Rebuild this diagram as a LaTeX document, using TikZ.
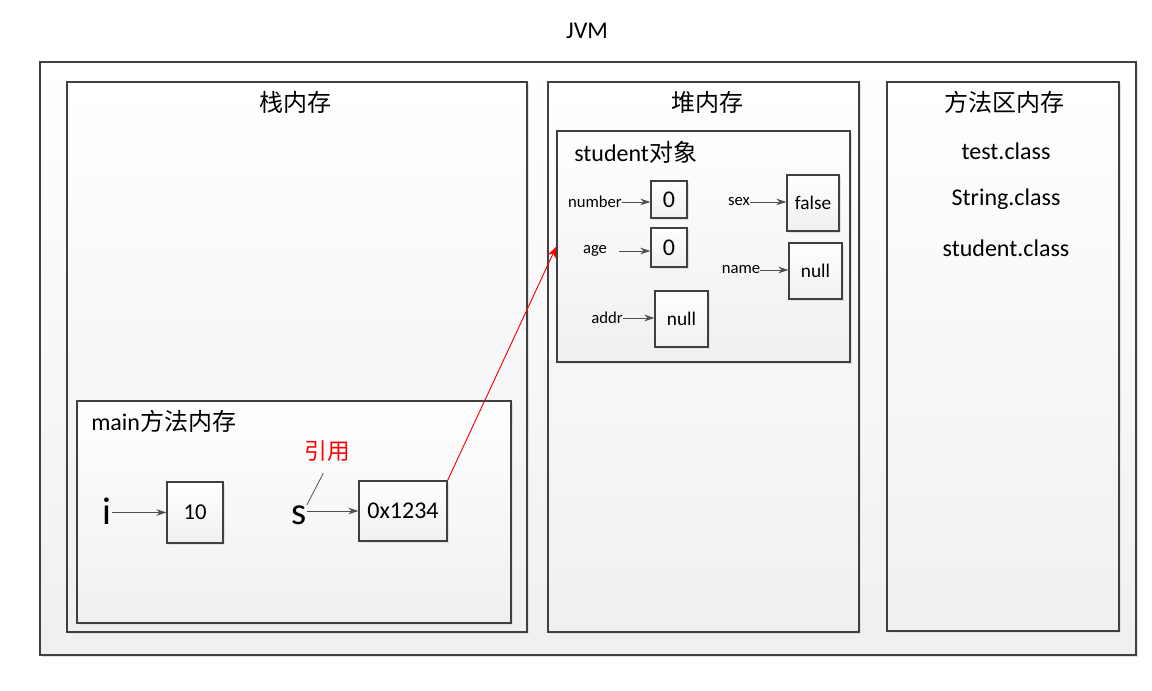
\documentclass[tikz,border=0pt]{standalone}
\usepackage{fontspec}
\setmainfont{Carlito}
\newfontfamily\cjk{Noto Sans CJK SC}
\usetikzlibrary{shadows,arrows.meta}
\definecolor{edge}{HTML}{404040}
\definecolor{arrc}{HTML}{505050}
\tikzset{
  box/.style={draw=edge, line width=0.9pt, top color=white, bottom color=black!6,
    inner sep=0pt,
    drop shadow={shadow xshift=1.6pt, shadow yshift=-1.6pt, fill=black!12, opacity=1}},
  big/.style={font=\fontsize{18}{20}\selectfont},
  mid/.style={font=\fontsize{14.5}{16}\selectfont},
  small/.style={font=\fontsize{12.5}{14}\selectfont, inner sep=0pt},
  huge/.style={font=\fontsize{29}{31}\selectfont, inner sep=0pt},
  arr/.style={draw=arrc, line width=0.7pt, -{Stealth[length=7.5pt,width=5pt]}},
  redarr/.style={draw=red, line width=0.7pt, -{Stealth[length=8.5pt,width=6.5pt]}},
}
\begin{document}
\begin{tikzpicture}[x=0.75pt,y=-0.75pt]
\fill[white] (0,0) rectangle (1152,691);
\useasboundingbox (0,0) rectangle (1152,691);

% outer JVM
\node[big] (tjvm) at (587,31) {JVM};
\node[box, minimum width=822pt, minimum height=444.75pt] (jvm) at (588,358.5) {};

% three regions
\node[box, minimum width=345pt, minimum height=412.5pt] (stack) at (297,357) {};
\node[box, minimum width=233.25pt, minimum height=412.5pt] (heap) at (703.5,357) {};
\node[box, minimum width=174pt, minimum height=411.75pt] (method) at (1003,356.5) {};
\node[big] (tstack) at (295,102) {\cjk 栈内存};
\node[big] (theap) at (707,102) {\cjk 堆内存};
\node[big] (tmethod) at (1004,102) {\cjk 方法区内存};
\node[big] (ctest) at (1006,151) {test.class};
\node[big] (cstring) at (1006,199) {String.class};
\node[big] (cstudent) at (1006,248) {student.class};

% main frame
\node[box, minimum width=325.5pt, minimum height=166.5pt] (main) at (294,512) {};
\node[big, anchor=west, inner sep=0pt] (tmain) at (91,421) {main{\cjk 方法内存}};

\node[box, big, minimum width=42pt, minimum height=45.75pt, font=\fontsize{17}{19}\selectfont] (ten) at (195,512.5) {10};
\node[box, big, minimum width=66pt, minimum height=45pt] (addr) at (403,511) {0x1234};
\node[huge, anchor=base] (li) at (107,524) {i};
\node[huge, anchor=base] (ls) at (299,524) {s};
\node[big, text=red, font=\cjk\fontsize{17}{19}\selectfont] (lyy) at (327,451) {引用};
\draw[arr] (li.east |- ten.west) -- (ten.west);
\draw[arr] (ls.east |- addr.west) -- (addr.west);
\draw[draw=arrc, line width=0.6pt, shorten >=6pt] (ls.north east) -- (lyy.south);

% student object
\node[box, minimum width=219.75pt, minimum height=173.25pt] (student) at (703.5,246.5) {};
\node[big, anchor=west, inner sep=0pt] (tstu) at (574,152) {student{\cjk 对象}};

\node[box, big, minimum width=27pt, minimum height=27.75pt] (num0) at (669,199.5) {0};
\node[box, big, minimum width=27pt, minimum height=29.25pt] (age0) at (669,247.5) {0};
\node[box, mid, minimum width=39pt, minimum height=42pt] (sexf) at (813,203) {false};
\node[box, mid, minimum width=39.75pt, minimum height=42pt] (namen) at (815.5,271) {null};
\node[box, mid, minimum width=39.75pt, minimum height=42pt] (addrn) at (681.5,319) {null};

\node[small, anchor=east] (lnum) at (622,202) {number};
\node[small] (lage) at (595,251) {age};
\node[small] (lsex) at (739,202) {sex};
\node[small] (lname) at (741,270) {name};
\node[small] (laddr) at (607,318) {addr};
\draw[arr] (lnum.east) -- (lnum.east -| num0.west);
\draw[arr] ([xshift=9pt]lage.east) -- (lage.east -| age0.west);
\draw[arr] (lsex.east) -- (lsex.east -| sexf.west);
\draw[arr] (lname.east) -- (lname.east -| namen.west);
\draw[arr] (laddr.east) -- (laddr.east -| addrn.west);

% reference arrow
\draw[redarr] (addr.north east) -- (student.west);
\end{tikzpicture}
\end{document}
